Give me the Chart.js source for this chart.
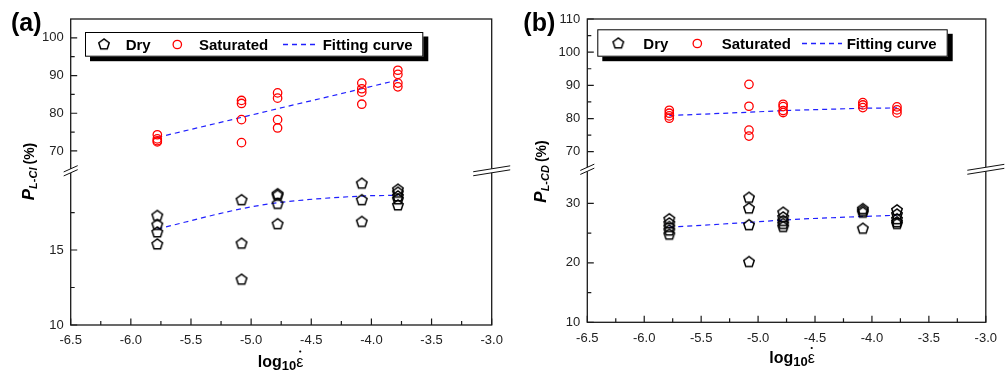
<!DOCTYPE html>
<html><head><meta charset="utf-8">
<script src="https://cdn.jsdelivr.net/npm/chart.js@4.4.1/dist/chart.umd.min.js"></script>
<style>
html,body{margin:0;padding:0;background:#fff;width:1005px;height:374px;overflow:hidden}
#wa{position:absolute;left:0;top:0;width:520px;height:374px}
#wb{position:absolute;left:500px;top:0;width:505px;height:374px}
</style></head><body>
<div id="wa"><canvas id="ca" width="520" height="374"></canvas></div>
<div id="wb"><canvas id="cb" width="505" height="374"></canvas></div>
<script>
// ---- data ----
const strainRates = [-5.78, -5.08, -4.78, -4.08, -3.78];
const xTickLabels = ['-6.5','-6.0','-5.5','-5.0','-4.5','-4.0','-3.5','-3.0'];
const legendLabels = ['Dry','Saturated','Fitting curve'];

// panel (a) P_L-CI
const aDry = [[17.3,16.7,16.2,15.4],[18.35,15.45,13.05],[18.75,18.65,18.1,16.75],[19.45,18.35,16.9],[19.05,18.85,18.6,18.4,18.0]];
const aSat = [[74.3,73.2,72.7,72.4],[83.4,82.6,78.3,72.2],[85.4,84.0,78.3,76.1],[88.0,86.5,85.6,82.4],[91.4,90.3,88.0,87.0]];
const aFitDry = [16.4,17.75,18.15,18.6,18.65];
const aFitSat = [73.6,78.9,81.2,86.5,88.8];
const aYUpperTicks = ['70','80','90','100'];
const aYLowerTicks = ['10','15'];

// panel (b) P_L-CD
const bDry = [[27.4,26.7,26.1,25.5,24.8],[31.0,29.2,26.4,20.2],[28.5,27.7,27.1,26.6,26.1],[29.1,28.8,28.5,25.8],[28.9,28.2,27.4,26.9,26.6]];
const bSat = [[82.5,81.6,80.8,80.1],[90.3,83.7,76.5,74.7],[84.3,83.6,82.4,81.8],[84.8,84.1,83.3],[83.5,82.6,81.7]];
const bFitDry = [26.0,26.8,27.2,27.8,28.0];
const bFitSat = [80.9,81.9,82.4,83.1,83.2];
const bYUpperTicks = ['70','80','90','100','110'];
const bYLowerTicks = ['10','20','30'];

// ---- helpers ----
const FAM = '"Liberation Sans", Arial, sans-serif';
Chart.defaults.font.family = FAM;

function pts(cols){ const out=[]; cols.forEach((c,i)=>c.forEach(v=>out.push({x:strainRates[i], y:v}))); return out; }
function fit(vals){ return vals.map((v,i)=>({x:strainRates[i], y:v})); }

const pent = document.createElement('canvas');
pent.width = 14; pent.height = 14;
(function(){
  const c = pent.getContext('2d');
  const R = 5.5, cx = 7, cy = 7.4;
  c.beginPath();
  for (let k=0;k<5;k++){ const a = -Math.PI/2 + k*2*Math.PI/5; const px = cx + R*Math.cos(a), py = cy + R*Math.sin(a); k?c.lineTo(px,py):c.moveTo(px,py); }
  c.closePath(); c.strokeStyle='#000'; c.lineWidth=1.5; c.stroke();
})();

function drawBreak(ctx, x, y, hl, s, g){
  const ya = y - g/2 + s*hl, yb = y - g/2 - s*hl;
  ctx.save();
  ctx.fillStyle = '#fff';
  ctx.beginPath(); ctx.moveTo(x-hl, ya); ctx.lineTo(x+hl, yb); ctx.lineTo(x+hl, yb+g); ctx.lineTo(x-hl, ya+g); ctx.closePath(); ctx.fill();
  ctx.strokeStyle = '#111'; ctx.lineWidth = 1;
  ctx.beginPath(); ctx.moveTo(x-hl, ya); ctx.lineTo(x+hl, yb); ctx.moveTo(x-hl, ya+g); ctx.lineTo(x+hl, yb+g); ctx.stroke();
  ctx.restore();
}

function drawLegend(ctx, L){
  ctx.save();
  ctx.fillStyle = '#000';
  ctx.fillRect(L.x0+5, L.y0+4.5, L.x1-L.x0, L.y1-L.y0);
  ctx.fillStyle = '#fff';
  ctx.fillRect(L.x0, L.y0, L.x1-L.x0, L.y1-L.y0);
  ctx.strokeStyle = '#000'; ctx.lineWidth = 1;
  ctx.strokeRect(L.x0+0.5, L.y0+0.5, L.x1-L.x0-1, L.y1-L.y0-1);
  const cy = L.cy;
  ctx.drawImage(pent, L.pent-7, cy-7.4);
  ctx.beginPath(); ctx.arc(L.circ, cy, 4.2, 0, Math.PI*2); ctx.strokeStyle='#ff0000'; ctx.lineWidth=1.3; ctx.stroke();
  ctx.beginPath(); ctx.setLineDash([5,4]); ctx.strokeStyle='#2020ff'; ctx.lineWidth=1.3; ctx.moveTo(L.d0, cy); ctx.lineTo(L.d1, cy); ctx.stroke(); ctx.setLineDash([]);
  ctx.fillStyle = '#000'; ctx.font = 'bold 15px '+FAM; ctx.textBaseline='middle'; ctx.textAlign='left';
  ctx.fillText(legendLabels[0], L.t0, cy+1);
  ctx.fillText(legendLabels[1], L.t1, cy+1);
  ctx.fillText(legendLabels[2], L.t2, cy+1);
  ctx.restore();
}

function drawYTitle(ctx, bx, cy, sub){
  ctx.save();
  ctx.translate(bx, cy); ctx.rotate(-Math.PI/2);
  ctx.fillStyle = '#000'; ctx.textBaseline = 'alphabetic'; ctx.textAlign='left';
  const fP = 'italic bold 17px '+FAM, fS = 'italic bold 11px '+FAM, fC = 'bold 14px '+FAM;
  ctx.font = fP; const wP = ctx.measureText('P').width;
  ctx.font = fS; const wS = ctx.measureText(sub).width;
  ctx.font = fC; const wC = ctx.measureText('(%)').width;
  const gap = 3;
  let x = -(wP + wS + gap + wC)/2;
  ctx.font = fP; ctx.fillText('P', x, 0); x += wP;
  ctx.font = fS; ctx.fillText(sub, x, 3); x += wS + gap;
  ctx.font = fC; ctx.fillText('(%)', x, 0);
  ctx.restore();
}

function drawXTitle(ctx, cx, base){
  ctx.save();
  ctx.fillStyle = '#000'; ctx.textBaseline = 'alphabetic'; ctx.textAlign='left';
  const fL = 'bold 16px '+FAM, fS = 'bold 13px '+FAM, fE = '16px '+FAM;
  ctx.font = fL; const wL = ctx.measureText('log').width;
  ctx.font = fS; const wS = ctx.measureText('10').width;
  ctx.font = fE; const wE = ctx.measureText('ε').width;
  let x = cx - (wL+wS+wE)/2;
  ctx.font = fL; ctx.fillText('log', x, base); x += wL;
  ctx.font = fS; ctx.fillText('10', x, base+3); x += wS;
  ctx.font = fE; ctx.fillText('ε', x, base);
  ctx.beginPath(); ctx.arc(x + wE/2 + 0.5, base - 15, 1.1, 0, Math.PI*2); ctx.fill();
  ctx.restore();
}

function makePanel(canvasId, P){
  const tickFont = {family: FAM, size: 13};
  const tickColor = '#222';
  const plugin = {
    id: 'deco'+canvasId,
    afterDraw(chart){
      const ctx = chart.ctx, ca = chart.chartArea;
      const xs = chart.scales.x, yu = chart.scales.yUp, yl = chart.scales.yLow;
      ctx.save();
      ctx.strokeStyle = '#1a1a1a'; ctx.lineWidth = 1.2;
      ctx.beginPath();
      xTickLabels.forEach((t,i)=>{
        const v = parseFloat(t), px = xs.getPixelForValue(v);
        ctx.moveTo(px, ca.bottom); ctx.lineTo(px, ca.bottom-6.5);
        if (i < xTickLabels.length-1){ const pm = xs.getPixelForValue(v+0.25); ctx.moveTo(pm, ca.bottom); ctx.lineTo(pm, ca.bottom-4); }
      });
      const yTicks = (sc, maj)=>{
        maj.forEach(t=>{ const v=parseFloat(t); const py=sc.getPixelForValue(v); ctx.moveTo(ca.left, py); ctx.lineTo(ca.left+6.5, py); });
        P.minor(sc.id).forEach(v=>{ const py=sc.getPixelForValue(v); ctx.moveTo(ca.left, py); ctx.lineTo(ca.left+4, py); });
      };
      yTicks(yu, P.upTicks); yTicks(yl, P.lowTicks);
      ctx.stroke();
      ctx.lineWidth = 1.3;
      ctx.strokeRect(ca.left, ca.top, ca.right-ca.left, ca.bottom-ca.top);
      ctx.restore();
      const yb = yu.bottom + 1;
      drawBreak(ctx, ca.left, yb, 7, 0.45, 4);
      drawBreak(ctx, ca.right, yb, 18.5, 0.16, 4);
      drawLegend(ctx, P.legend);
      ctx.save(); ctx.fillStyle='#000'; ctx.font='bold 25px '+FAM; ctx.textBaseline='alphabetic'; ctx.textAlign='left';
      ctx.fillText(P.label, P.labelX, 31); ctx.restore();
      drawYTitle(ctx, P.yTitleX, 171.5, P.sub);
      drawXTitle(ctx, P.xTitleX, P.xTitleBase);
    }
  };
  return new Chart(document.getElementById(canvasId), {
    type: 'scatter',
    data: { datasets: [
      {label: legendLabels[0], data: pts(P.dry), yAxisID: 'yLow', pointStyle: pent, pointRadius: 5, borderColor:'#000', backgroundColor:'rgba(0,0,0,0)'},
      {label: legendLabels[1], data: pts(P.sat), yAxisID: 'yUp', pointStyle: 'circle', pointRadius: 4.2, borderWidth: 1.3, borderColor:'#ff0000', backgroundColor:'rgba(0,0,0,0)'},
      {label: legendLabels[2], data: fit(P.fitSat), yAxisID: 'yUp', showLine: true, pointRadius: 0, borderColor:'#2020ff', borderWidth: 1.2, borderDash:[5,4], backgroundColor:'rgba(0,0,0,0)'},
      {label: legendLabels[2]+' (dry)', data: fit(P.fitDry), yAxisID: 'yLow', showLine: true, pointRadius: 0, borderColor:'#2020ff', borderWidth: 1.2, borderDash:[5,4], cubicInterpolationMode:'monotone', backgroundColor:'rgba(0,0,0,0)'}
    ]},
    options: {
      responsive: false, animation: false, devicePixelRatio: 1,
      layout: { padding: P.padding },
      plugins: { legend: {display:false}, tooltip: {enabled:false}, title:{display:false} },
      scales: {
        x: {
          type:'linear', position:'bottom', min:-6.5, max:-3.0,
          grid:{display:false, drawTicks:false}, border:{display:false},
          afterBuildTicks: s => { s.ticks = xTickLabels.map(t=>({value: parseFloat(t)})); },
          ticks:{ callback:(v,i)=>xTickLabels[i], font:tickFont, color:tickColor, padding:8, autoSkip:false, maxRotation:0 },
          afterFit: s => { s.height = P.xHeight; }
        },
        yLow: {
          type:'linear', position:'left', stack:'y', stackWeight:P.lowWeight, min:P.lowMin, max:P.lowMax,
          grid:{display:false, drawTicks:false}, border:{display:false},
          afterBuildTicks: s => { s.ticks = P.lowTicks.map(t=>({value: parseFloat(t)})); },
          ticks:{ callback:(v,i)=>P.lowTicks[i], font:tickFont, color:tickColor, padding:7, autoSkip:false },
          afterFit: s => { s.width = P.yWidth; }
        },
        yUp: {
          type:'linear', position:'left', stack:'y', stackWeight:P.upWeight, min:P.upMin, max:P.upMax,
          grid:{display:false, drawTicks:false}, border:{display:false},
          afterBuildTicks: s => { s.ticks = P.upTicks.map(t=>({value: parseFloat(t)})); },
          ticks:{ callback:(v,i)=>P.upTicks[i], font:tickFont, color:tickColor, padding:7, autoSkip:false },
          afterFit: s => { s.width = P.yWidth; }
        }
      }
    },
    plugins: [plugin]
  });
}

makePanel('ca', {
  dry:aDry, sat:aSat, fitDry:aFitDry, fitSat:aFitSat, upTicks:aYUpperTicks, lowTicks:aYLowerTicks,
  minor: id => id==='yUp' ? [75,85,95] : [12.5,17.5],
  upMin:65, upMax:105, lowMin:10, lowMax:20.35, upWeight:150.8, lowWeight:155.2,
  padding:{left:0, top:19, right:28.3, bottom:0}, yWidth:70.7, xHeight:49,
  legend:{x0:85, y0:32, x1:423.3, y1:56.7, cy:44.5, pent:104, t0:125.7, circ:177.3, t1:199, d0:283, d1:318, t2:322.7},
  label:'(a)', labelX:11, sub:'L-CI', yTitleX:33.5, xTitleX:280.5, xTitleBase:366.5
});
makePanel('cb', {
  dry:bDry, sat:bSat, fitDry:bFitDry, fitSat:bFitSat, upTicks:bYUpperTicks, lowTicks:bYLowerTicks,
  minor: id => id==='yUp' ? [75,85,95,105] : [15,25],
  upMin:65, upMax:110, lowMin:10, lowMax:35.9, upWeight:149.3, lowWeight:154,
  padding:{left:0, top:19, right:13.3, bottom:0}, yWidth:87.3, xHeight:51.7,
  legend:{x0:97.3, y0:29.3, x1:447.7, y1:56.7, cy:43.5, pent:118.3, t0:143.3, circ:197.3, t1:221.7, d0:302, d1:342, t2:346.7},
  label:'(b)', labelX:23.3, sub:'L-CD', yTitleX:45.5, xTitleX:292, xTitleBase:363
});
</script>
</body></html>
